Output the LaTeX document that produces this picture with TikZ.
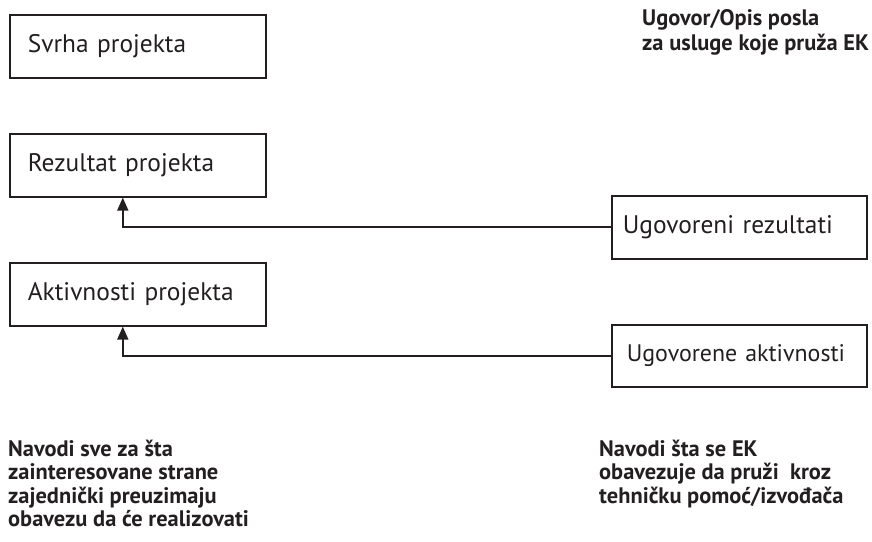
\documentclass[tikz,border=0pt]{standalone}
\usepackage{fontspec}
\setmainfont{PT Sans}
\usetikzlibrary{arrows.meta}
\definecolor{ink}{HTML}{231F20}
\tikzset{
  box/.style={draw=ink, line width=1.6bp, rectangle, anchor=north west,
    minimum height=63bp, text=ink, font=\fontsize{25.5}{28}\selectfont,
    align=left},
  leftbox/.style={box, minimum width=256bp, text width=220bp, inner xsep=18bp},
  rightbox/.style={box, minimum width=255bp, text width=233bp, inner xsep=11bp},
  feed/.style={draw=ink, line width=1.6bp, -{Triangle[length=13bp,width=11bp]}},
  note/.style={anchor=north west, align=left, text=ink, inner sep=0pt,
    font=\bfseries\fontsize{22.5}{23.4}\selectfont}
}
\begin{document}
\begin{tikzpicture}[x=1bp,y=-1bp]
  \useasboundingbox (0,0) rectangle (872,542);
  % project side
  \node[leftbox] (sp) at (9,14) {Svrha projekta};
  \node[leftbox] (rp) at (9,133) {Rezultat projekta};
  \node[leftbox] (ap) at (9,262) {Aktivnosti projekta};
  % contract side
  \node[rightbox] (ur) at (611,195) {Ugovoreni rezultati};
  \node[rightbox, minimum height=62bp, inner xsep=15bp, text width=225bp,
        font=\fontsize{24}{28}\selectfont] (ua) at (611,324) {Ugovorene aktivnosti};
  % headings and notes
  \node[note, font=\bfseries\fontsize{22.5}{25.5}\selectfont] (hd) at (642,9) {Ugovor/Opis posla\\za usluge koje pruža EK};
  \node[note] (nl) at (8,440) {Navodi sve za šta\\zainteresovane strane\\zajednički preuzimaju\\obavezu da će realizovati};
  \node[note] (nr) at (599,440) {Navodi šta se EK\\obavezuje da pruži~ kroz\\tehničku pomoć/izvođača};
  % contract items feed the project items
  \draw[feed] (ur.west) -| ([xshift=-15bp]rp.south);
  \draw[feed] (ua.west) -| ([xshift=-15bp]ap.south);
\end{tikzpicture}
\end{document}
